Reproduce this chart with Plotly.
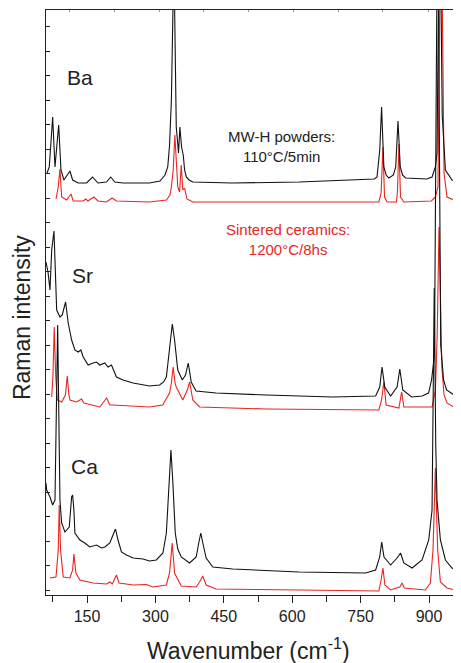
import plotly.graph_objects as go

# Wavenumber (cm-1) / Raman intensity (arb. units, offset spectra)
ba_mw_x = [61.5, 67.2, 74.6, 79.7, 87.8, 92.8, 99.3, 112.5, 118.4, 130.6, 149, 162, 174, 192.7, 202, 211, 229, 287,
           310, 321, 327, 331, 335, 340.5, 345.7, 350.7, 353.6, 357.3, 361, 364, 367.7, 374, 382, 469, 615, 761, 780,
           786, 792, 796, 801, 806, 812, 822, 827, 832, 837, 842, 848.5, 895, 906.7, 914, 917.6, 923.5, 929, 936,
           950.4, 965]
ba_mw_y = [421, 428, 478, 428, 470, 425, 415, 424, 415, 412, 412, 418, 412, 413, 418, 413, 412, 412,
           414, 420, 428, 450, 495, 640, 468, 442, 468, 448, 440, 425, 418, 415, 413, 412, 413, 415, 416,
           418, 445, 488, 428, 420, 417, 420, 428, 474, 428, 420, 417, 416, 418, 428, 442, 720, 480, 425,
           415, 413]

ba_sc_x = [81.9, 86.9, 90.6, 94.3, 105.3, 114.7, 119.7, 141.5, 147.4, 151.8, 165, 174, 192.7, 205, 214.5, 287, 324,
           332, 335, 339, 342.6, 346, 349, 353, 356.6, 360, 364, 369, 382, 790, 795, 799, 802.5, 808, 828.8, 831,
           834, 837.5, 845, 905, 914, 919.7, 926.3, 933, 939.5, 965]
ba_sc_y = [396, 408, 426, 398, 395, 401, 394, 394, 396, 394, 398, 394, 393, 397, 394, 393, 395,
           400, 408, 425, 460, 425, 408, 403, 430, 405, 407, 396, 393, 393, 402, 448, 398, 393, 393, 405,
           451, 398, 393, 394, 398, 408, 720, 422, 398, 393]

sr_mw_x = [60, 64.4, 68.7, 72.5, 77.5, 83.4, 90.6, 95.6, 103, 108.7, 116.2, 123.4, 130.6, 136.5, 141.5, 152.5, 163.4,
           170.8, 178, 189, 196, 203.6, 214.5, 229, 251, 287, 309, 318, 324, 331, 337, 342, 349, 359, 366, 372,
           378.5, 389, 433, 542.5, 688, 783, 792, 797, 803, 815.7, 830, 836, 842.5, 862, 885, 899, 905.6, 912,
           919, 925.7, 932, 938.5, 965]
sr_mw_y = [333, 323, 305, 345, 364, 285, 278, 280, 293, 272, 255, 245, 243, 245, 238, 230, 232,
           233, 230, 232, 228, 230, 218, 215, 212, 209, 210, 213, 218, 248, 271, 255, 225, 215, 220, 232,
           213, 204, 202, 200, 198, 199, 208, 228, 208, 199, 208, 226, 205, 198, 199, 202, 215, 240,
           720, 250, 215, 205, 197]

sr_sc_x = [72.5, 75.3, 78, 81.2, 84.7, 94.3, 102.6, 106.6, 110.3, 112.5, 127, 138, 143, 178, 193, 200, 207, 240, 287,
           316, 331, 335, 339, 343, 345.7, 360, 370, 375, 379, 382, 397, 542.5, 790, 796, 801, 806, 834, 840, 845,
           906.7, 914, 918, 922, 926, 928.2, 933, 939.5, 965]
sr_sc_y = [198, 220, 268, 220, 195, 193, 200, 219, 200, 195, 193, 196, 192, 188, 197, 190, 190, 189, 188,
           190, 202, 212, 228, 212, 208, 195, 205, 213, 202, 195, 188, 186, 185, 195, 213, 190, 187, 203, 188,
           188, 205, 260, 368, 260, 228, 200, 192, 185]

ca_mw_x = [60, 61.5, 68.7, 74.6, 79.7, 82.3, 85.6, 88.4, 90.6, 94.3, 101.5, 111, 116.2, 118.4, 121.2, 123.4, 134.3,
           145, 156, 170.8, 181.8, 189, 200, 207, 212.4, 218, 225.5, 236.4, 251, 272.7, 287, 302, 316.4, 324, 329.5,
           334, 338.3, 343.5, 349, 356.6, 374.8, 389.4, 395, 399.5, 403.9, 411.3, 425.7, 469.4, 615, 761, 783,
           791.9, 796.3, 801.3, 815.9, 830, 837.6, 844.8, 862.9, 884.8, 899.4, 906.7, 911.5, 914.8, 917.6, 925,
           936, 950.4, 965]
ca_mw_y = [112, 105, 98, 90, 95, 162, 270, 170, 95, 72, 63, 68, 98, 100, 85, 62, 55,
           52, 48, 50, 47, 48, 52, 60, 66, 55, 43, 40, 37, 36, 34, 35, 42, 62, 112,
           145, 112, 62, 46, 38, 32, 38, 52, 62, 52, 37, 28, 26, 23, 22, 25,
           38, 53, 38, 30, 37, 42, 32, 27, 35, 55, 85, 307, 150, 95, 55,
           35, 27, 23]

ca_sc_x = [68.7, 81.9, 86.9, 89, 92, 97.8, 112.5, 118.4, 121.2, 125.6, 134.3, 163.4, 192.7, 200, 205.5, 214.5, 220.2,
           251, 280, 294.6, 324, 331, 336.8, 342, 356.6, 389.4, 396.7, 403.9, 411.3, 433, 615, 790, 795, 799, 803.3,
           815.9, 836, 841, 846, 892, 903, 908.8, 914, 919, 925, 939.5, 965]
ca_sc_y = [17, 18, 45, 90, 45, 18, 17, 25, 41, 22, 15, 12, 11, 13, 11, 20, 12,
           10, 10.5, 8, 10, 22, 52, 22, 9, 8, 13, 19, 10, 6, 5, 4, 15, 27, 10,
           5, 8, 12, 7, 5, 12, 45, 127, 45, 13, 7, 4]

x_ticks = [150, 300, 450, 600, 750, 900]
top_ticks = [112, 210, 308, 406, 504, 602, 701, 799, 898]

BLACK = "#111111"
RED = "#e8251f"
FONT = "Liberation Sans, Arial, Helvetica, sans-serif"

fig = go.Figure()
series = [
    (ba_sc_x, ba_sc_y, RED), (sr_sc_x, sr_sc_y, RED), (ca_sc_x, ca_sc_y, RED),
    (ba_mw_x, ba_mw_y, BLACK), (sr_mw_x, sr_mw_y, BLACK), (ca_mw_x, ca_mw_y, BLACK),
]
for xs, ys, c in series:
    fig.add_trace(go.Scatter(x=xs, y=ys, mode="lines", line=dict(color=c, width=1.1),
                             showlegend=False, hoverinfo="skip"))

# invisible trace for top axis ticks
fig.add_trace(go.Scatter(x=[60, 968], y=[0, 0], xaxis="x2", mode="lines",
                         line=dict(width=0), showlegend=False, hoverinfo="skip"))

labels = [("Ba", 135, 518, 21, "#222222"), ("Sr", 139, 320, 21, "#222222"), ("Ca", 145, 129, 21, "#222222"),
          ("MW-H powders:<br>110°C/5min", 576, 449, 15, "#222222"),
          ("Sintered ceramics:<br>1200°C/8hs", 591, 356, 15, RED)]
for t, x, y, s, c in labels:
    fig.add_annotation(x=x, y=y, text=t, showarrow=False, font=dict(family=FONT, size=s, color=c),
                       xanchor="center", yanchor="middle")

fig.add_annotation(x=0.488, y=-0.093, xref="paper", yref="paper", text="Wavenumber (cm<sup>-1</sup>)",
                   showarrow=False, font=dict(family=FONT, size=23, color="#222222"),
                   xanchor="center", yanchor="middle")
fig.add_annotation(x=-0.058, y=0.475, xref="paper", yref="paper", text="Raman intensity", textangle=-90,
                   showarrow=False, font=dict(family=FONT, size=23, color="#222222"),
                   xanchor="center", yanchor="middle")

# page body adds an 8 px margin, so the figure is 16 px smaller and margins shifted
fig.update_layout(
    width=453, height=655,
    margin=dict(l=38, r=1, t=2, b=68, autoexpand=False),
    paper_bgcolor="white", plot_bgcolor="white",
    font=dict(family=FONT, size=16, color="#222222"),
    xaxis=dict(range=[60, 968], tickvals=x_ticks, ticks="outside", ticklen=7, tickwidth=1, tickcolor="#222",
               showline=True, linecolor="#222", linewidth=1.3, showgrid=False, zeroline=False,
               minor=dict(dtick=75, tick0=0, ticks="outside", ticklen=6, tickcolor="#222", showgrid=False),
               tickfont=dict(size=16)),
    xaxis2=dict(range=[60, 968], overlaying="x", side="top", tickvals=top_ticks, ticks="inside", ticklen=2,
                tickcolor="#999", showticklabels=False, showline=True, linecolor="#222", linewidth=1.3,
                showgrid=False, zeroline=False),
    yaxis=dict(range=[0, 585], tick0=5, dtick=24.5, ticks="inside", ticklen=4, tickcolor="#222",
               showticklabels=False, showline=True, linecolor="#222", linewidth=1.3, mirror=True,
               showgrid=False, zeroline=False),
)

fig.write_html("out.html")
